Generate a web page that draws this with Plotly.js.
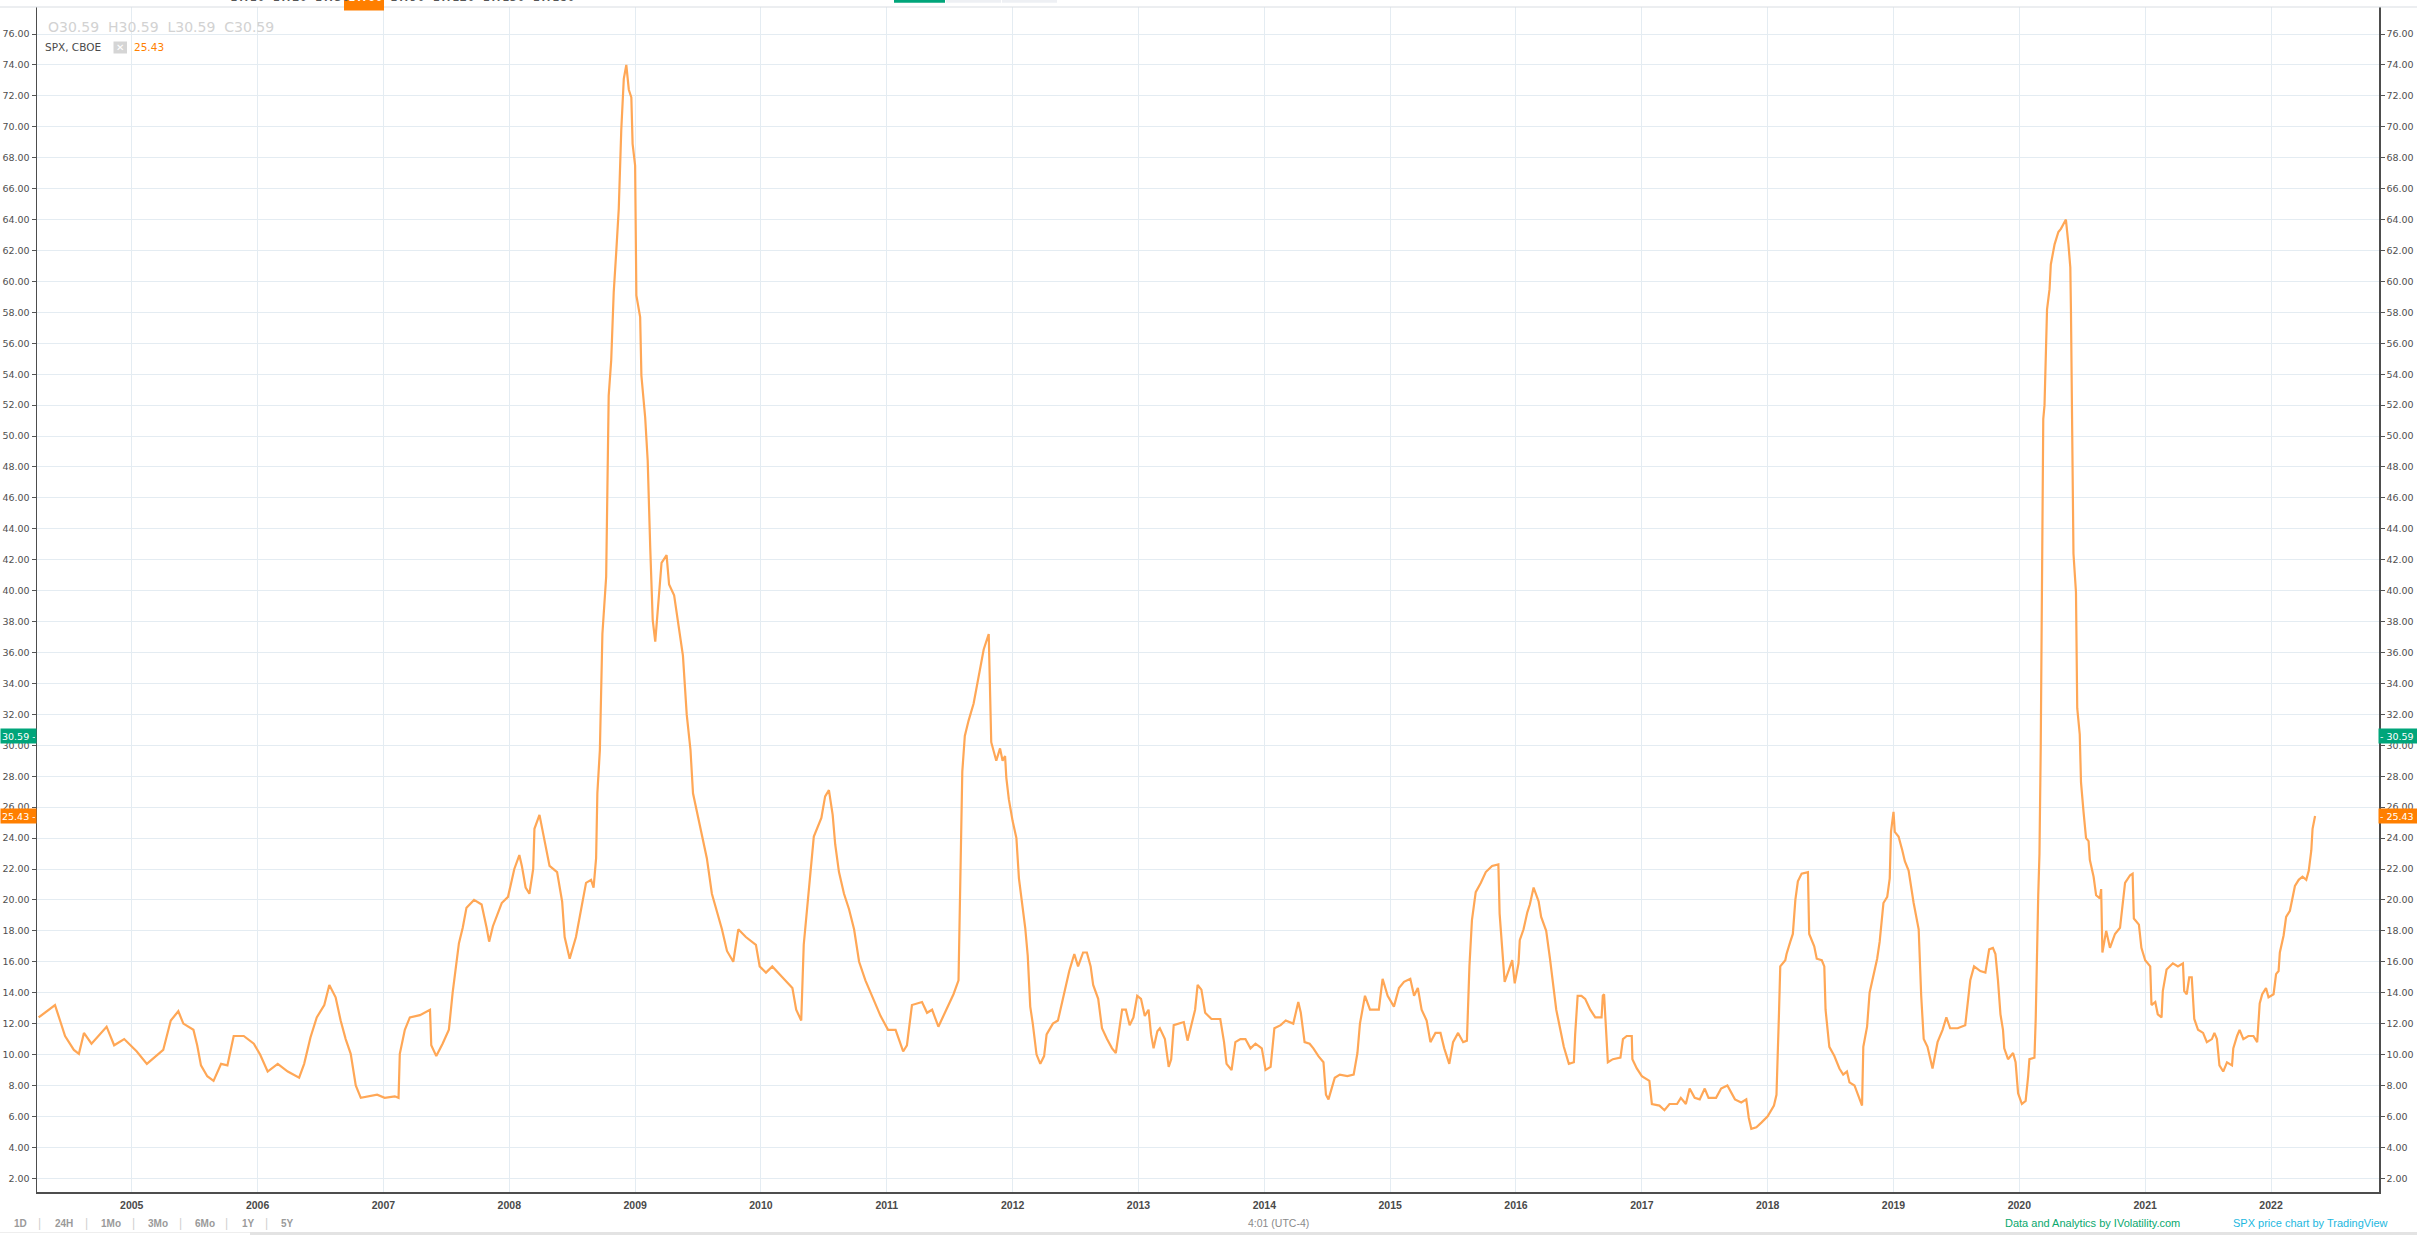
<!DOCTYPE html>
<html>
<head>
<meta charset="utf-8">
<script src="https://cdn.plot.ly/plotly-3.0.1.min.js"></script>
<style>html,body{margin:0;padding:0;background:#fff;}#chart{width:2417px;height:1235px;}</style>
</head>
<body>
<div id="chart"></div>
<script>
// ---- Data ----
const yearTicks = [2005,2006,2007,2008,2009,2010,2011,2012,2013,2014,2015,2016,2017,2018,2019,2020,2021,2022];
const tickLabels = yearTicks.map(String);

const years = [
2004.26,2004.39,2004.43,2004.47,2004.54,2004.58,2004.62,2004.68,2004.80,2004.86,2004.94,
2005.04,2005.12,2005.25,2005.31,2005.37,2005.41,2005.49,2005.52,2005.55,2005.60,2005.65,2005.71,2005.76,2005.81,2005.89,2005.97,
2006.02,2006.08,2006.16,2006.24,2006.33,2006.37,2006.42,2006.47,2006.53,2006.57,2006.62,2006.66,2006.70,2006.74,2006.78,2006.82,2006.90,2006.95,
2007.01,2007.09,2007.12,2007.13,2007.17,2007.21,2007.29,2007.37,2007.38,2007.42,2007.47,2007.52,2007.55,2007.58,2007.60,2007.63,2007.66,2007.72,2007.78,2007.82,2007.84,2007.87,2007.94,2007.99,
2008.04,2008.08,2008.10,2008.13,2008.16,2008.19,2008.20,2008.24,2008.28,2008.32,2008.38,2008.42,2008.44,2008.48,2008.53,2008.57,2008.61,2008.65,2008.67,2008.69,2008.70,2008.72,2008.74,2008.77,2008.78,2008.79,2008.81,2008.83,2008.85,2008.87,2008.89,2008.91,2008.93,2008.95,2008.97,2008.98,
2009.00,2009.01,2009.04,2009.05,2009.08,2009.10,2009.12,2009.14,2009.16,2009.18,2009.21,2009.25,2009.27,2009.31,2009.35,2009.38,2009.41,2009.44,2009.46,2009.52,2009.57,2009.61,2009.65,2009.69,2009.73,2009.78,2009.82,2009.88,2009.96,2009.99,
2010.04,2010.09,2010.17,2010.25,2010.28,2010.32,2010.34,2010.37,2010.40,2010.42,2010.48,2010.51,2010.54,2010.57,2010.59,2010.62,2010.66,2010.70,2010.74,2010.78,2010.83,2010.89,2010.95,
2011.01,2011.07,2011.13,2011.16,2011.20,2011.28,2011.32,2011.36,2011.41,2011.47,2011.53,2011.57,2011.581,2011.59,2011.60,2011.62,2011.65,2011.69,2011.73,2011.77,2011.81,2011.82,2011.83,2011.87,2011.90,2011.92,2011.94,2011.95,2011.97,
2012.00,2012.03,2012.05,2012.08,2012.10,2012.12,2012.14,2012.16,2012.19,2012.22,2012.25,2012.27,2012.32,2012.36,2012.38,2012.42,2012.45,2012.49,2012.52,2012.56,2012.59,2012.62,2012.64,2012.68,2012.71,2012.75,2012.79,2012.82,2012.85,2012.87,2012.90,2012.93,2012.96,2012.99,
2013.02,2013.05,2013.08,2013.10,2013.12,2013.15,2013.17,2013.21,2013.24,2013.26,2013.28,2013.32,2013.36,2013.39,2013.42,2013.45,2013.47,2013.50,2013.53,2013.58,2013.65,2013.68,2013.70,2013.74,2013.77,2013.81,2013.85,2013.89,2013.93,2013.98,
2014.01,2014.05,2014.08,2014.13,2014.17,2014.23,2014.27,2014.29,2014.32,2014.36,2014.39,2014.43,2014.47,2014.49,2014.51,2014.53,2014.56,2014.60,2014.66,2014.71,2014.74,2014.76,2014.79,2014.80,2014.84,2014.91,2014.94,2014.98,
2015.03,2015.07,2015.11,2015.16,2015.19,2015.22,2015.25,2015.29,2015.32,2015.36,2015.40,2015.43,2015.47,2015.50,2015.54,2015.58,2015.61,2015.63,2015.65,2015.68,2015.72,2015.76,2015.81,2015.86,2015.87,2015.89,2015.91,2015.94,2015.97,2015.99,
2016.02,2016.03,2016.06,2016.09,2016.11,2016.14,2016.18,2016.20,2016.24,2016.27,2016.30,2016.32,2016.35,2016.38,2016.42,2016.46,2016.47,2016.49,2016.52,2016.55,2016.59,2016.63,2016.68,2016.69,2016.70,2016.72,2016.73,2016.77,2016.83,2016.85,2016.88,2016.92,2016.925,2016.96,
2017.00,2017.06,2017.08,2017.14,2017.18,2017.22,2017.28,2017.31,2017.35,2017.38,2017.42,2017.46,2017.50,2017.53,2017.59,2017.63,2017.68,2017.74,2017.79,2017.83,2017.85,2017.87,2017.91,2017.95,
2018.00,2018.05,2018.07,2018.09,2018.10,2018.14,2018.15,2018.18,2018.20,2018.22,2018.24,2018.27,2018.32,2018.33,2018.37,2018.39,2018.43,2018.45,2018.46,2018.49,2018.53,2018.57,2018.60,2018.63,2018.65,2018.69,2018.72,2018.75,2018.76,2018.79,2018.81,2018.84,2018.87,2018.89,2018.92,2018.95,2018.97,2018.98,
2019.00,2019.01,2019.04,2019.07,2019.09,2019.12,2019.16,2019.20,2019.22,2019.24,2019.27,2019.31,2019.35,2019.39,2019.42,2019.45,2019.51,2019.57,2019.59,2019.61,2019.64,2019.69,2019.73,2019.76,2019.79,2019.81,2019.83,2019.85,2019.87,2019.88,2019.91,2019.95,2019.97,2019.99,
2020.02,2020.05,2020.07,2020.08,2020.12,2020.13,2020.15,2020.16,2020.17,2020.18,2020.19,2020.20,2020.22,2020.24,2020.25,2020.28,2020.31,2020.33,2020.37,2020.39,2020.405,2020.41,2020.42,2020.43,2020.45,2020.46,2020.48,2020.49,2020.51,2020.53,2020.55,2020.56,2020.59,2020.61,2020.64,2020.65,2020.66,2020.69,2020.72,2020.76,2020.80,2020.82,2020.84,2020.88,2020.90,2020.91,2020.95,2020.97,
2021.00,2021.04,2021.05,2021.08,2021.10,2021.13,2021.14,2021.17,2021.22,2021.26,2021.30,2021.31,2021.33,2021.35,2021.37,2021.39,2021.42,2021.46,2021.49,2021.53,2021.55,2021.57,2021.59,2021.62,2021.65,2021.69,2021.70,2021.73,2021.75,2021.78,2021.82,2021.86,2021.89,2021.91,2021.93,2021.96,2021.98,
2022.02,2022.04,2022.06,2022.07,2022.10,2022.12,2022.15,2022.17,2022.19,2022.22,2022.25,2022.28,2022.30,2022.32,2022.33,2022.35
];

const hv = [
12.4,13.2,12.2,11.2,10.3,10.05,11.4,10.7,11.8,10.6,11.0,
10.2,9.4,10.3,12.2,12.8,12.0,11.6,10.6,9.3,8.6,8.3,9.4,9.3,11.2,11.2,10.7,
10.0,8.9,9.4,8.9,8.5,9.4,11.1,12.4,13.2,14.5,13.7,12.2,11.0,10.05,8.0,7.2,7.3,7.4,
7.2,7.3,7.2,10.05,11.6,12.4,12.55,12.9,10.6,9.9,10.7,11.6,14.0,15.8,17.2,18.2,19.5,20.0,19.7,18.2,17.3,18.3,19.8,20.2,
22.0,22.9,22.2,20.8,20.4,22.0,24.6,25.5,23.9,22.2,21.8,19.9,17.6,16.2,17.6,19.4,21.1,21.3,20.8,22.7,26.9,29.7,37.2,40.9,48.4,52.6,54.9,59.3,61.9,64.7,69.8,73.1,74.0,72.4,71.9,68.9,
67.5,59.1,57.7,53.9,51.2,48.4,42.8,38.1,36.7,39.0,41.8,42.3,40.4,39.7,37.6,35.8,32.0,29.7,26.9,24.6,22.7,20.4,19.2,18.1,16.7,16.0,18.1,17.6,17.1,15.7,
15.3,15.7,15.0,14.3,12.9,12.2,17.1,19.9,22.7,24.1,25.3,26.7,27.1,25.5,23.6,21.8,20.4,19.4,18.1,16.0,14.8,13.7,12.5,
11.6,11.6,10.2,10.6,13.2,13.4,12.7,12.9,11.8,12.9,13.9,14.8,20.4,25.1,28.3,30.6,31.6,32.7,34.4,36.2,37.2,33.4,30.2,29.0,29.8,29.0,29.3,27.9,26.5,
25.1,24.0,21.4,19.4,18.2,16.4,13.1,12.0,10.0,9.4,9.9,11.3,12.0,12.2,12.9,14.5,15.4,16.5,15.7,16.6,16.6,15.7,14.5,13.6,11.7,11.0,10.4,10.1,11.7,12.9,12.9,11.9,12.4,13.8,
13.6,12.5,12.9,11.3,10.4,11.5,11.7,11.0,9.2,9.7,11.9,12.0,12.1,10.9,12.0,12.9,14.5,14.2,12.7,12.3,12.3,10.8,9.4,9.0,10.8,11.0,11.0,10.4,10.7,10.4,
9.0,9.2,11.7,11.9,12.2,12.0,13.4,12.7,10.8,10.7,10.4,9.9,9.5,7.4,7.1,7.7,8.5,8.7,8.6,8.7,10.1,12.0,13.4,13.8,12.9,12.9,14.9,13.8,
13.1,14.3,14.7,14.9,13.8,14.3,12.9,12.2,10.8,11.4,11.4,10.4,9.4,10.8,11.4,10.8,10.9,15.7,18.7,20.5,21.1,21.8,22.2,22.3,19.1,17.1,14.7,15.4,16.1,14.6,
15.9,17.4,18.1,19.2,19.7,20.8,19.9,18.9,18.0,16.2,14.3,12.9,11.7,10.5,9.4,9.5,11.3,13.8,13.8,13.6,12.9,12.4,12.4,13.8,13.9,10.8,9.5,9.7,9.8,11.0,11.2,11.2,9.7,9.1,
8.6,8.3,6.8,6.7,6.4,6.8,6.8,7.2,6.8,7.8,7.2,7.1,7.8,7.2,7.2,7.8,8.0,7.1,6.9,7.1,5.9,5.2,5.3,5.6,
6.0,6.7,7.4,12.7,15.7,16.1,16.5,17.3,17.8,20.0,21.2,21.7,21.8,17.8,17.0,16.2,16.1,15.7,12.9,10.5,9.9,9.1,8.7,8.9,8.2,8.0,7.4,6.7,10.5,11.8,14.0,15.1,16.2,17.3,19.8,20.2,21.4,24.4,
25.7,24.4,24.1,23.2,22.5,21.9,19.8,18.1,13.8,11.0,10.5,9.1,10.8,11.6,12.4,11.7,11.7,11.9,13.3,14.8,15.7,15.4,15.3,16.8,16.9,16.5,14.8,12.6,11.6,10.4,9.7,10.1,9.5,7.5,
6.8,7.0,8.6,9.7,9.8,12.3,20.3,23.0,29.9,43.6,51.1,52.0,58.2,59.5,61.1,62.4,63.2,63.4,64.0,62.4,60.9,58.2,49.9,42.4,39.9,32.4,30.7,27.6,25.7,24.0,23.8,22.6,21.5,20.3,20.1,20.7,16.6,18.0,16.9,17.8,18.2,19.9,21.1,21.6,21.7,18.8,18.4,16.9,
16.1,15.7,13.2,13.4,12.6,12.4,14.1,15.5,15.9,15.7,15.9,14.1,13.9,15.0,15.0,12.3,11.6,11.4,10.8,11.0,11.4,11.0,9.3,8.9,9.5,9.3,10.4,11.2,11.6,11.0,11.2,11.2,10.8,13.3,13.9,14.3,13.7,
13.9,15.2,15.4,16.6,17.7,18.9,19.3,20.1,20.9,21.3,21.5,21.3,21.9,23.2,24.6,25.43
];

const lastClose = 30.59;
const lastValue = 25.43;

// ---- Geometry helpers (pixel -> paper) ----
const W = 2417, H = 1235;
const PL = 37, PR = 2379, PT = 7, PB = 1192;
const px = X => (X - PL) / (PR - PL);
const py = Y => (PB - Y) / (PB - PT);

const yRange = [1.11, 77.75];
const xRange = [2004.247, 2022.858];
const gridC = '#e4ecf2';
const axisC = '#4d4d4d';
const tickFontY = {family: 'DejaVu Sans', size: 9.5, color: '#4f4f4f'};

const traces = [
  {x: years, y: hv, type: 'scatter', mode: 'lines', hoverinfo: 'skip',
   line: {color: '#ffa756', width: 2.2}, showlegend: false},
  {x: years, y: hv, type: 'scatter', mode: 'lines', hoverinfo: 'skip', yaxis: 'y2',
   line: {color: 'rgba(0,0,0,0)', width: 0}, showlegend: false}
];

function ann(X, Y, text, opts) {
  return Object.assign({xref: 'paper', yref: 'paper', x: px(X), y: py(Y), text: text,
    showarrow: false, xanchor: 'left', yanchor: 'middle'}, opts || {});
}

const annotations = [
  // top toolbar (cut off by the top edge, as in the reference)
  ann(228, 6, '1W10  1W20  1W30', {yanchor: 'bottom', font: {family: 'DejaVu Sans', size: 12, color: '#555'}}),
  ann(346, 6, '1W60', {yanchor: 'bottom', font: {family: 'DejaVu Sans', size: 12, color: '#ffffff'}}),
  ann(388, 6, '1W90  1W120  1W150  1W180', {yanchor: 'bottom', font: {family: 'DejaVu Sans', size: 12, color: '#555'}}),
  // OHLC legend
  ann(46, 27, 'O30.59  H30.59  L30.59  C30.59', {font: {family: 'DejaVu Sans', size: 14, color: '#d2d2d2'}}),
  ann(43, 47, 'SPX, CBOE', {font: {family: 'DejaVu Sans', size: 10.5, color: '#4a4a4a'}}),
  ann(120.3, 47.5, '✕', {xanchor: 'center', font: {family: 'DejaVu Sans', size: 10, color: '#ffffff'}}),
  ann(132, 47, String(lastValue.toFixed(2)), {font: {family: 'DejaVu Sans', size: 10.5, color: '#ff7f00'}}),
  // price tags
  {xref: 'paper', yref: 'y', x: px(0), y: lastClose, xanchor: 'left', yanchor: 'middle', showarrow: false,
   text: lastClose.toFixed(2) + ' -', bgcolor: '#00a57a', width: 33, height: 12, borderpad: 1, align: 'left',
   font: {family: 'DejaVu Sans', size: 9.5, color: '#ffffff'}},
  {xref: 'paper', yref: 'y', x: px(0), y: lastValue, xanchor: 'left', yanchor: 'middle', showarrow: false,
   text: lastValue.toFixed(2) + ' -', bgcolor: '#ff7f00', width: 33, height: 12, borderpad: 1, align: 'left',
   font: {family: 'DejaVu Sans', size: 9.5, color: '#ffffff'}},
  {xref: 'paper', yref: 'y', x: px(2378), y: lastClose, xanchor: 'left', yanchor: 'middle', showarrow: false,
   text: '- ' + lastClose.toFixed(2), bgcolor: '#00a57a', width: 37, height: 12, borderpad: 1, align: 'left',
   font: {family: 'DejaVu Sans', size: 9.5, color: '#ffffff'}},
  {xref: 'paper', yref: 'y', x: px(2378), y: lastValue, xanchor: 'left', yanchor: 'middle', showarrow: false,
   text: '- ' + lastValue.toFixed(2), bgcolor: '#ff7f00', width: 37, height: 12, borderpad: 1, align: 'left',
   font: {family: 'DejaVu Sans', size: 9.5, color: '#ffffff'}},
  // bottom bar
  ann(12, 1223, '1D', {font: {family: 'Liberation Sans', size: 10, color: '#9a9a9a', weight: 'bold'}}),
  ann(36, 1223, '|', {font: {family: 'Liberation Sans', size: 12, color: '#d0d0d0'}}),
  ann(53, 1223, '24H', {font: {family: 'Liberation Sans', size: 10, color: '#9a9a9a', weight: 'bold'}}),
  ann(83, 1223, '|', {font: {family: 'Liberation Sans', size: 12, color: '#d0d0d0'}}),
  ann(99, 1223, '1Mo', {font: {family: 'Liberation Sans', size: 10, color: '#9a9a9a', weight: 'bold'}}),
  ann(130, 1223, '|', {font: {family: 'Liberation Sans', size: 12, color: '#d0d0d0'}}),
  ann(146, 1223, '3Mo', {font: {family: 'Liberation Sans', size: 10, color: '#9a9a9a', weight: 'bold'}}),
  ann(177, 1223, '|', {font: {family: 'Liberation Sans', size: 12, color: '#d0d0d0'}}),
  ann(193, 1223, '6Mo', {font: {family: 'Liberation Sans', size: 10, color: '#9a9a9a', weight: 'bold'}}),
  ann(223, 1223, '|', {font: {family: 'Liberation Sans', size: 12, color: '#d0d0d0'}}),
  ann(240, 1223, '1Y', {font: {family: 'Liberation Sans', size: 10, color: '#9a9a9a', weight: 'bold'}}),
  ann(263, 1223, '|', {font: {family: 'Liberation Sans', size: 12, color: '#d0d0d0'}}),
  ann(279, 1223, '5Y', {font: {family: 'Liberation Sans', size: 10, color: '#9a9a9a', weight: 'bold'}}),
  ann(1278, 1223, '4:01 (UTC-4)', {xanchor: 'center', font: {family: 'Liberation Sans', size: 10.5, color: '#8a8a8a'}}),
  ann(2003, 1223, 'Data and Analytics by IVolatility.com', {font: {family: 'Liberation Sans', size: 11, color: '#0aa86e'}}),
  ann(2231, 1223, 'SPX price chart by TradingView', {font: {family: 'Liberation Sans', size: 11, color: '#1db8e0'}})
];

function rect(x0, y0, x1, y1, fill, line) {
  return {type: 'rect', xref: 'paper', yref: 'paper', x0: px(x0), x1: px(x1), y0: py(y1), y1: py(y0),
          fillcolor: fill, line: line || {width: 0}, layer: 'above'};
}

const shapes = [
  {type: 'line', xref: 'paper', yref: 'paper', x0: px(0), x1: px(W), y0: py(7), y1: py(7), line: {color: '#d9dde2', width: 1}, layer: 'above'},
  rect(344, 0, 384, 10.5, '#ff7f00'),
  rect(894, 0, 945, 2.7, '#00a57a'),
  rect(946, 0, 1001, 2.7, '#eef0f4'),
  rect(1002, 0, 1057, 2.7, '#eef0f4'),
  rect(113.5, 41.5, 127, 53.5, '#d5d5d5'),
  rect(250, 1232, W, 1235, '#e3e3e3'),
  rect(0, 1232, 250, 1233, '#eeeeee')
];

const layout = {
  width: W, height: H,
  margin: {l: PL, r: W - PR, t: PT, b: H - PB, pad: 0},
  paper_bgcolor: '#ffffff', plot_bgcolor: '#ffffff',
  showlegend: false,
  xaxis: {range: xRange, tickmode: 'array', tickvals: yearTicks, ticktext: tickLabels,
    showgrid: true, gridcolor: gridC, gridwidth: 1, zeroline: false,
    showline: true, linecolor: axisC, linewidth: 1.5, ticks: '', ticklabelstandoff: 3,
    tickfont: {family: 'Liberation Sans', size: 10.5, color: '#4a4a4a', weight: 'bold'}, fixedrange: true},
  yaxis: {range: yRange, tick0: 0, dtick: 2, tickformat: '.2f', side: 'left',
    showgrid: true, gridcolor: gridC, gridwidth: 1, zeroline: false,
    showline: true, linecolor: axisC, linewidth: 1.5, ticks: 'outside', ticklen: 4, tickcolor: '#555',
    tickfont: tickFontY, fixedrange: true},
  yaxis2: {range: yRange, tick0: 0, dtick: 2, tickformat: '.2f', side: 'right', overlaying: 'y', anchor: 'x',
    showgrid: false, zeroline: false,
    showline: true, linecolor: axisC, linewidth: 1.5, ticks: 'outside', ticklen: 4, tickcolor: '#555',
    tickfont: tickFontY, fixedrange: true},
  annotations: annotations,
  shapes: shapes
};

Plotly.newPlot('chart', traces, layout, {staticPlot: true, displayModeBar: false});
</script>
</body>
</html>
